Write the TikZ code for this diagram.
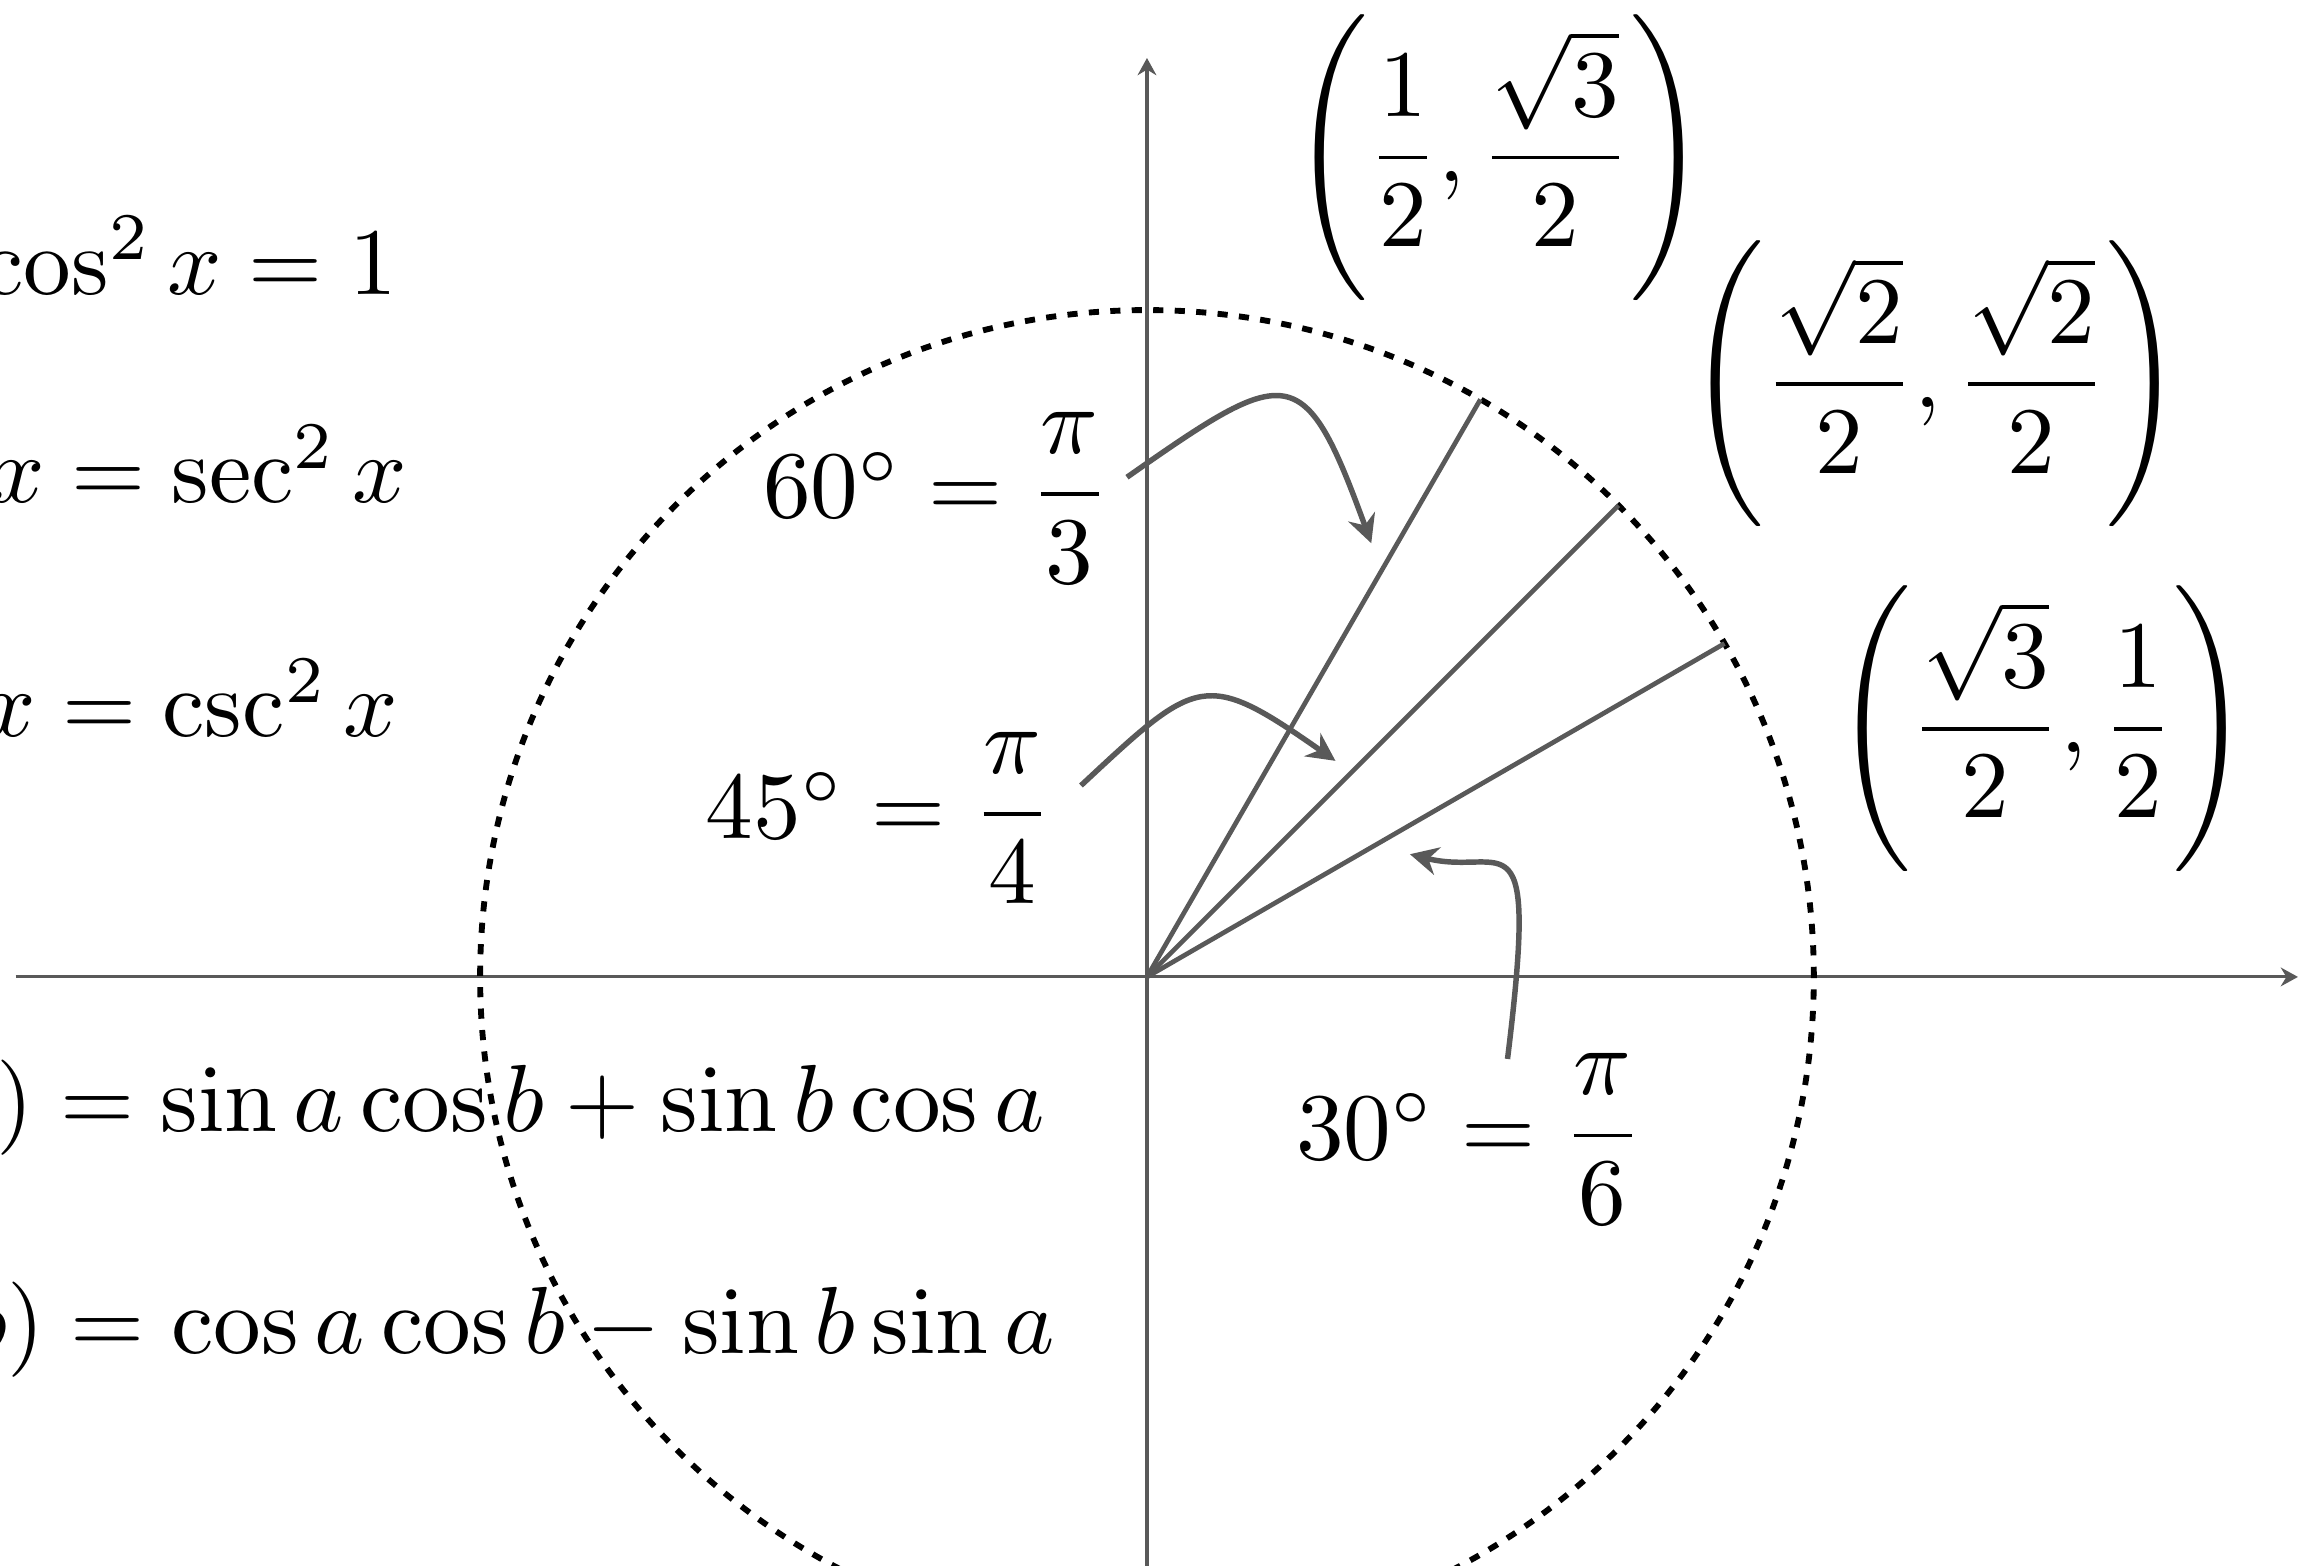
\documentclass[tikz,border=0pt]{standalone}
\usepackage{amsmath,amssymb}
\usepackage{tikz}
\usetikzlibrary{positioning,calc,arrows.meta}

\begin{document}
\begin{tikzpicture}[>={Stealth[length=3.6pt,width=3.6pt]}, every node/.append style={scale=1.22, inner sep=0pt}, axis/.style={black!65, line width=0.4pt, -{Stealth[length=2.2pt,width=2.4pt]}}, ray/.style={black!65, line width=0.6pt}, pointer/.style={black!65, line width=0.7pt, ->}, unit/.style={black, line width=0.75pt, dash pattern=on 1.3pt off 1.45pt}]

\path[use as bounding box, clip] (-5.16,-2.65) rectangle (5.178,4.395);

% identities, cut by the left border
\node[anchor=base east] (pyth) at (-3.365,3.072) {$\sin^2 x+\cos^2 x=1$};
\node[anchor=base east] (tansec) at (-3.32,2.133) {$1+\tan^2 x=\sec^2 x$};
\node[anchor=base east] (cotcsc) at (-3.36,1.081) {$1+\cot^2 x=\csc^2 x$};
\node[anchor=base east] (sinsum) at (-0.452,-0.696) {$\sin(a+b)=\sin a\cos b+\sin b\cos a$};
\node[anchor=base east] (cossum) at (-0.405,-1.694) {$\cos(a+b)=\cos a\cos b-\sin b\sin a$};

% axes and unit circle
\coordinate (o) at (0,0);
\coordinate (xl) at (-5.09,0);
\coordinate (xr) at (5.178,0);
\coordinate (yb) at (0,-2.7);
\coordinate (yt) at (0,4.134);
\draw[axis] (xl) -- (xr);
\draw[axis] (yb) -- (yt);
\draw[unit] (o) circle (3);

% rays
\coordinate (r30) at (30:3);
\coordinate (r45) at (45:3);
\coordinate (r60) at (60:3);
\draw[ray] (o) -- (r30);
\draw[ray] (o) -- (r45);
\draw[ray] (o) -- (r60);

% points on the circle
\node (pt60) at (1.584,3.686) {$\left(\dfrac{1}{2},\dfrac{\sqrt{3}}{2}\right)$};
\node (pt45) at (3.547,2.667) {$\left(\dfrac{\sqrt{2}}{2},\dfrac{\sqrt{2}}{2}\right)$};
\node (pt30) at (4.027,1.117) {$\left(\dfrac{\sqrt{3}}{2},\dfrac{1}{2}\right)$};

% angle labels
\node[anchor=east] (deg60) at (-0.158,2.156) {$60^\circ=\dfrac{\pi}{3}$};
\node[anchor=east] (deg45) at (-0.415,0.715) {$45^\circ=\dfrac{\pi}{4}$};
\node[anchor=east] (deg30) at (2.240,-0.730) {$30^\circ=\dfrac{\pi}{6}$};

\coordinate (t60) at (1.009,1.951);
\coordinate (t45) at (0.848,0.972);
\coordinate (t30) at (1.183,0.552);

\draw[pointer] ([shift={(0.068,0.092)}]deg60.east) to[out=35,in=110,looseness=2] (t60);
\draw[pointer] ([shift={(0.118,0.146)}]deg45.east) to[out=43,in=145,looseness=1.6] (t45);
\draw[pointer] ([shift={(-0.618,0.361)}]deg30.east) to[out=83,in=-14,out looseness=2.9,in looseness=1.1] (t30);
\end{tikzpicture}
\end{document}
